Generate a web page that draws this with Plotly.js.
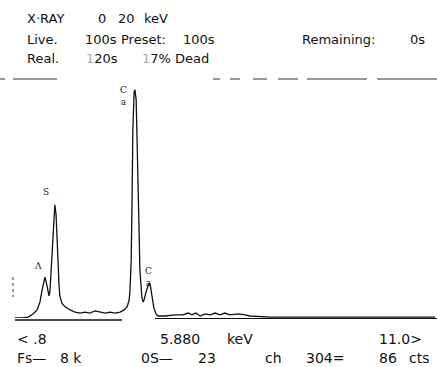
<!DOCTYPE html>
<html>
<head>
<meta charset="utf-8">
<script src="https://cdn.plot.ly/plotly-3.0.1.min.js"></script>
<style>html,body{margin:0;padding:0;background:#fff;}#chart{width:437px;height:367px;}</style>
</head>
<body>
<div id="chart"></div>
<script>
// Spectrum: energy (keV) and counts
const energyKeV = [0.82,0.99,1.14,1.26,1.36,1.43,1.48,1.53,1.55,1.58,1.62,1.65,1.67,1.70,1.75,1.77,1.79,1.82,1.84,1.87,1.89,1.91,1.96,2.04,2.16,2.28,2.40,2.52,2.64,2.76,2.88,3.01,3.13,3.25,3.37,3.47,3.54,3.59,3.61,3.64,3.66,3.68,3.71,3.73,3.76,3.78,3.80,3.83,3.85,3.88,3.90,3.93,3.95,4.00,4.05,4.07,4.10,4.14,4.19,4.24,4.29,4.46,4.70,4.89,5.02,5.11,5.21,5.31,5.43,5.55,5.67,5.79,5.91,6.03,6.23,6.40,6.52,7.00,7.73,8.94,10.15,11.0];
const counts    = [0,0,30,130,260,520,900,1230,1320,1160,810,710,840,1550,2680,3480,3650,3320,2520,1710,1070,710,480,360,260,190,160,190,160,230,190,160,190,160,190,260,360,580,900,1870,3810,6070,7290,7360,7030,6070,4450,2840,1550,900,650,520,580,840,1070,1130,1070,740,320,130,65,65,100,100,160,100,160,65,130,100,160,100,160,100,130,100,65,30,30,30,30,30];

// Header / footer texts as printed on the display
const headerTexts = ["X·RAY","0","20","keV","Live.","100s","Preset:","100s","Remaining:","0s","Real.","<span style=\"color:#aaa\">1</span>20s","<span style=\"color:#aaa\">1</span>7% Dead"];
const footerTexts = ["< .8","5.880","keV","11.0>","Fs—","8 k","0S—","23","ch","304=","86","cts"];
const peakLabels  = ["Λ","S","C<br>a","C<br>a"];

const W = 437, H = 367;
const P = (x, y) => ({x: x / W, y: 1 - y / H});

const headerPos = [[25,19],[96,19],[116,19],[142,19],[25,39],[83,39],[119,39],[181,39],[300,39],[408,39],[25,58],[84,58],[140,58]];
const footerPos = [[15,339],[158,339],[225,339],[377,339],[15,358],[58,358],[139,358],[196,358],[263,358],[304,358],[377,358],[407,358]];
const peakPos   = [[38,266],[46,192],[124,96],[148,277]];

const annotations = [];
headerTexts.forEach((t, i) => {
  const p = P(headerPos[i][0], headerPos[i][1]);
  annotations.push({text: t, x: p.x, y: p.y, xref: 'paper', yref: 'paper', xanchor: 'left', yanchor: 'middle', showarrow: false,
    font: {family: 'DejaVu Sans', size: 13, color: '#111'}});
});
footerTexts.forEach((t, i) => {
  const p = P(footerPos[i][0], footerPos[i][1]);
  annotations.push({text: t, x: p.x, y: p.y, xref: 'paper', yref: 'paper', xanchor: 'left', yanchor: 'middle', showarrow: false,
    font: {family: 'DejaVu Sans', size: 14, color: '#111'}});
});
peakLabels.forEach((t, i) => {
  const p = P(peakPos[i][0], peakPos[i][1]);
  annotations.push({text: t, x: p.x, y: p.y, xref: 'paper', yref: 'paper', xanchor: 'center', yanchor: 'middle', showarrow: false,
    font: {family: 'DejaVu Serif', size: 9, color: '#222'}});
});

// dashed separator under header and axis pieces
const dashSegs = [[0,5],[13,57],[213,220],[230,240],[253,267],[278,298],[307,367],[377,437]];
const shapes = dashSegs.map(s => ({type: 'line', xref: 'paper', yref: 'paper', x0: s[0]/W, x1: s[1]/W, y0: 1-79/H, y1: 1-79/H,
  line: {color: '#333', width: 1}}));
shapes.push({type: 'line', xref: 'paper', yref: 'paper', x0: 15/W, x1: 122/W, y0: 1-320/H, y1: 1-320/H, line: {color: '#111', width: 1.5}});
shapes.push({type: 'line', xref: 'paper', yref: 'paper', x0: 155/W, x1: 437/W, y0: 1-318.5/H, y1: 1-318.5/H, line: {color: '#111', width: 1.2}});
shapes.push({type: 'line', xref: 'paper', yref: 'paper', x0: 13/W, x1: 13/W, y0: 1-277/H, y1: 1-297/H, line: {color: '#333', width: 1, dash: 'dot'}});

const trace = {
  x: energyKeV, y: counts, type: 'scatter', mode: 'lines',
  line: {color: '#111', width: 1.3}, hoverinfo: 'skip'
};

const layout = {
  width: W, height: H,
  margin: {l: 0, r: 0, t: 0, b: 0},
  paper_bgcolor: '#fff', plot_bgcolor: '#fff',
  showlegend: false,
  xaxis: {domain: [14/W, 435/W], range: [0.8, 11.0], visible: false},
  yaxis: {domain: [1-318/H, 1-70/H], range: [0, 8000], visible: false},
  annotations: annotations,
  shapes: shapes
};

Plotly.newPlot('chart', [trace], layout, {staticPlot: true, displayModeBar: false});
</script>
</body>
</html>
